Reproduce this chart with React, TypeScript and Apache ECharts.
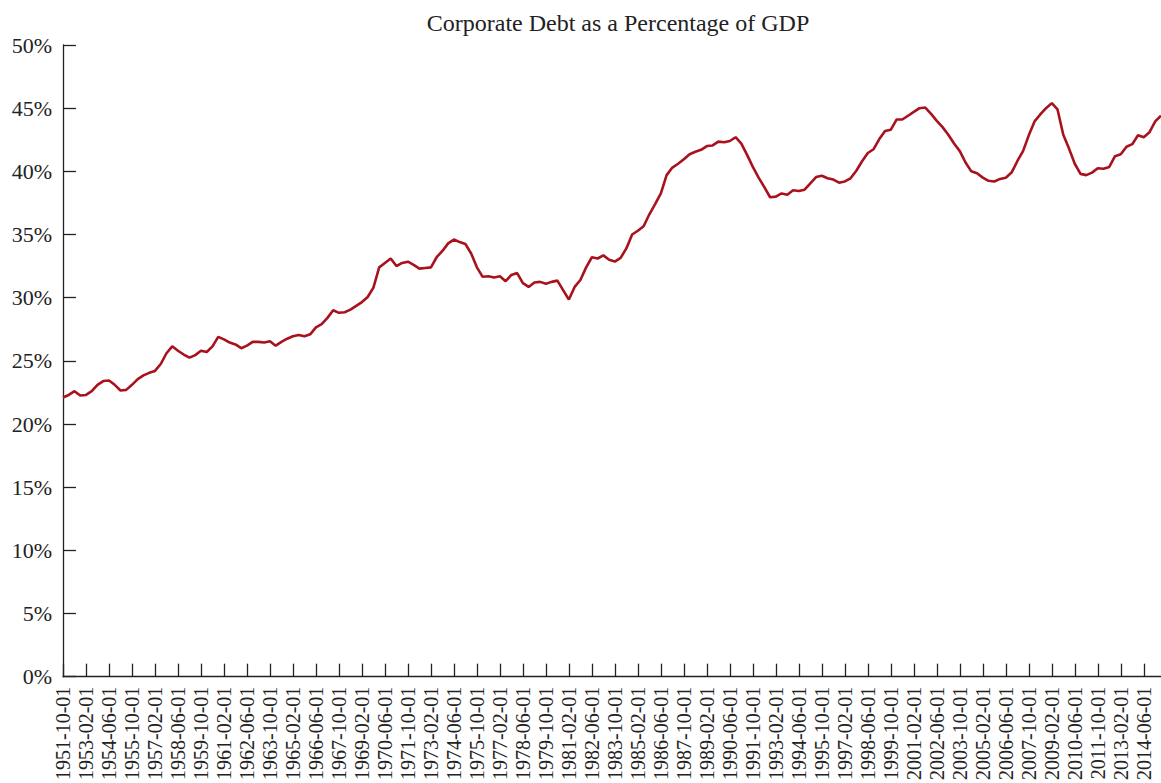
import React, { useEffect, useRef } from "react";
import * as echarts from "echarts";

const TITLE = "Corporate Debt as a Percentage of GDP";
const START_YEAR = 1951;
const START_MONTH = 10;
const STEP_MONTHS = 4;

// Corporate debt as % of GDP, every 4 months from 1951-10-01 to 2015-06-01
const debtPct: number[] = [
  22.1, 22.3, 22.6, 22.25, 22.3, 22.6, 23.1, 23.4, 23.45, 23.1,
  22.65, 22.7, 23.1, 23.55, 23.85, 24.05, 24.2, 24.75, 25.6, 26.15,
  25.8, 25.5, 25.25, 25.45, 25.8, 25.7, 26.15, 26.9, 26.7, 26.45,
  26.3, 26.0, 26.2, 26.5, 26.5, 26.45, 26.55, 26.2, 26.5, 26.75,
  26.95, 27.05, 26.95, 27.1, 27.65, 27.9, 28.4, 29.0, 28.8, 28.85,
  29.05, 29.35, 29.65, 30.05, 30.8, 32.4, 32.75, 33.1, 32.5, 32.75,
  32.85, 32.6, 32.3, 32.35, 32.4, 33.2, 33.7, 34.3, 34.6, 34.4,
  34.25, 33.5, 32.4, 31.65, 31.7, 31.6, 31.7, 31.3, 31.8, 31.95,
  31.15, 30.85, 31.2, 31.25, 31.1, 31.25, 31.35, 30.6, 29.85, 30.85,
  31.4, 32.4, 33.2, 33.1, 33.35, 33.0, 32.86, 33.15, 33.9, 35.0,
  35.3, 35.65, 36.6, 37.4, 38.25, 39.7, 40.3, 40.6, 40.95, 41.35,
  41.55, 41.7, 42.0, 42.05, 42.35, 42.3, 42.4, 42.7, 42.2, 41.3,
  40.35, 39.5, 38.75, 37.95, 38.0, 38.25, 38.15, 38.5, 38.45, 38.55,
  39.05, 39.55, 39.65, 39.45, 39.35, 39.1, 39.2, 39.45, 40.05, 40.8,
  41.45, 41.75, 42.55, 43.2, 43.3, 44.1, 44.1, 44.4, 44.7, 45.0,
  45.05, 44.55, 44.0, 43.5, 42.9, 42.2, 41.6, 40.7, 40.0, 39.85,
  39.5, 39.25, 39.2, 39.4, 39.5, 39.9, 40.8, 41.6, 42.85, 43.95,
  44.5, 45.0, 45.4, 44.9, 42.9, 41.8, 40.6, 39.8, 39.7, 39.9,
  40.25, 40.2, 40.35, 41.2, 41.35, 41.95, 42.15, 42.85, 42.7, 43.1,
  43.95, 44.4,
];

const dates: string[] = debtPct.map((_, i) => {
  const m0 = START_MONTH - 1 + i * STEP_MONTHS;
  const y = START_YEAR + Math.floor(m0 / 12);
  const m = (m0 % 12) + 1;
  return `${y}-${String(m).padStart(2, "0")}-01`;
});

const FONT = "'Liberation Serif', 'Times New Roman', serif";

export default function App() {
  const ref = useRef<HTMLDivElement>(null);
  useEffect(() => {
    if (!ref.current) return;
    const chart = echarts.init(ref.current, undefined, { renderer: "svg" });
    chart.setOption({
      animation: false,
      backgroundColor: "#ffffff",
      textStyle: { fontFamily: FONT },
      title: {
        text: TITLE,
        left: 613,
        top: 6,
        textAlign: "center",
        textStyle: { fontFamily: FONT, fontSize: 24, fontWeight: "normal", color: "#222" },
      },
      grid: { left: 63, right: 0, top: 45, bottom: 106, containLabel: false },
      xAxis: {
        type: "category",
        data: dates,
        boundaryGap: false,
        axisLine: { show: true, lineStyle: { color: "#222", width: 1.3 } },
        axisTick: { show: true, inside: true, length: 13, interval: 3, lineStyle: { color: "#222", width: 1.3 } },
        axisLabel: {
          interval: 3,
          rotate: 90,
          margin: 10,
          fontFamily: FONT,
          fontSize: 20,
          color: "#222",
        },
        splitLine: { show: false },
      },
      yAxis: {
        type: "value",
        min: 0,
        max: 50,
        interval: 5,
        axisLine: { show: true, lineStyle: { color: "#222", width: 1.3 } },
        axisTick: { show: true, inside: true, length: 13, lineStyle: { color: "#222", width: 1.3 } },
        axisLabel: {
          formatter: "{value}%",
          margin: 11,
          fontFamily: FONT,
          fontSize: 22,
          color: "#222",
        },
        splitLine: { show: false },
      },
      series: [
        {
          type: "line",
          data: debtPct,
          showSymbol: false,
          smooth: false,
          lineStyle: { color: "#a8121c", width: 2.6 },
          itemStyle: { color: "#a8121c" },
        },
      ],
    });
    return () => chart.dispose();
  }, []);
  return (
    <div
      ref={ref}
      style={{ position: "fixed", left: 0, top: 0, width: 1161, height: 783, background: "#fff" }}
    />
  );
}
